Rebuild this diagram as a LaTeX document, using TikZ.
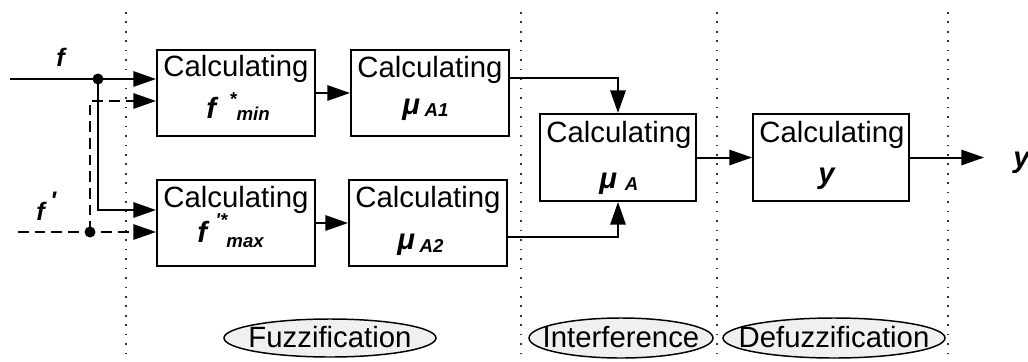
\documentclass[tikz,border=0pt]{standalone}
\usepackage{fontspec}
\setmainfont{Liberation Sans}
\usetikzlibrary{arrows.meta,shapes.geometric}
\newcommand{\BIx}{\bfseries\itshape}
\newcommand{\bigsz}{\fontsize{22}{26}\selectfont}
\newcommand{\subsz}{\fontsize{14}{16}\selectfont}
\begin{document}
\begin{tikzpicture}[x=0.75pt,y=-0.75pt,
  blk/.style={draw, line width=1.5pt, minimum width=118.5pt, minimum height=64.5pt, inner sep=0pt},
  txt/.style={inner sep=0pt, font=\bigsz},
  conn/.style={line width=1.5pt, -{Triangle[length=17pt,width=11.5pt]}},
  dconn/.style={line width=1.5pt, dash pattern=on 8pt off 4.5pt},
  dconnarr/.style={dconn, -{Triangle[length=17pt,width=11.5pt]}},
  sep/.style={line width=1.2pt, dash pattern=on 1.2pt off 5.9pt, black!80},
  ell/.style={draw, line width=1.1pt, fill=black!6},
  dot/.style={fill=black},
  inlab/.style={inner sep=0pt, anchor=base west, font=\fontsize{19}{22}\selectfont\BIx}
]
\useasboundingbox (0,0) rectangle (1028,361);

% separators
\draw[sep] (126,12) -- (126,361);
\draw[sep] (521,12) -- (521,361);
\draw[sep] (717,12) -- (717,361);
\draw[sep] (948,12) -- (948,361);

% boxes
\node[blk] (b1) at (236,93) {};
\node[blk] (b2) at (430,93) {};
\node[blk] (b3) at (236,223) {};
\node[blk] (b4) at (428,223) {};
\node[blk, minimum width=117pt, minimum height=65.25pt] (b5) at (618,157.5) {};
\node[blk, minimum width=117pt, minimum height=65.25pt] (b6) at (831,157.5) {};

% box texts
\node[txt, anchor=base] (t1) at (236,76) {Calculating};
\node[txt, anchor=base west] (s1) at (206,118) {\BIx f\hspace{10pt}\raisebox{9.5pt}{\subsz *}\raisebox{-1.5pt}{\subsz min}};
\node[txt, anchor=base] (t2) at (430,77) {Calculating};
\node[txt, anchor=base west] (s2) at (402,114) {\BIx μ\hspace{3.5pt}\raisebox{-2pt}{\subsz A1}};
\node[txt, anchor=base] (t3) at (236,207) {Calculating};
\node[txt, anchor=base west] (s3) at (197,242) {\BIx f\hspace{6.5pt}\raisebox{11.5pt}{\subsz\textquotesingle*}\hspace{-0.75pt}\raisebox{-3.75pt}{\subsz max}};
\node[txt, anchor=base] (t4) at (428,207) {Calculating};
\node[txt, anchor=base west] (s4) at (397,249) {\BIx μ\hspace{3.5pt}\raisebox{-2.5pt}{\subsz A2}};
\node[txt, anchor=base] (t5) at (619,142) {Calculating};
\node[txt, anchor=base west] (s5) at (599,188) {\BIx μ\hspace{6pt}\raisebox{-1.5pt}{\subsz A}};
\node[txt, anchor=base] (t6) at (832,142) {Calculating};
\node[txt, anchor=base west] (s6) at (818,183) {\BIx y};

% input labels
\node[inlab] (lf) at (56,66) {f};
\node[inlab] (lfp) at (36,220) {f\hspace{4pt}\raisebox{8pt}{\textquotesingle}};
\node[inner sep=0pt, anchor=base west, font=\bigsz\BIx] (ly) at (1013,167) {y};

% input connectors
\coordinate (fin) at (10,79);
\coordinate (fpin) at (18,232);
\coordinate (d1) at (98,79);
\coordinate (d2) at (90,232);
\coordinate (c1) at (90,101);
\coordinate (c2) at (98,210);

\draw[conn] (fin) -- (d1) -- (b1.west |- d1);
\draw[conn] (d1) -- (c2) -- (b3.west |- c2);
\draw[dconnarr] (fpin) -- (d2) -- (b3.west |- d2);
\draw[dconnarr] (d2) -- (c1) -- (b1.west |- c1);
\fill[dot] (d1) circle (5.5);
\fill[dot] (d2) circle (5.5);

% internal connectors
\draw[conn] (b1.east) -- (b2.west);
\draw[conn] (b3.east) -- (b4.west);
\coordinate (o2) at (509,78);
\coordinate (o4) at (507,237);
\draw[conn] (b2.east |- o2) -- (b5.north |- o2) -- (b5.north);
\draw[conn] (b4.east |- o4) -- (b5.south |- o4) -- (b5.south);
\draw[conn] (b5.east) -- (b6.west);
\coordinate (yout) at (984,157.5);
\draw[conn] (b6.east) -- (yout);

% phase labels
\coordinate (e1) at (330,338);
\coordinate (e2) at (621,338);
\coordinate (e3) at (834,338);
\draw[ell] (e1) ellipse [x radius=106, y radius=19];
\draw[ell] (e2) ellipse [x radius=92, y radius=20];
\draw[ell] (e3) ellipse [x radius=111, y radius=20];
\node[txt, anchor=base] (p1) at (330,347) {Fuzzification};
\node[txt, anchor=base] (p2) at (621,347) {Interference};
\node[txt, anchor=base] (p3) at (834,347) {Defuzzification};
\end{tikzpicture}
\end{document}
